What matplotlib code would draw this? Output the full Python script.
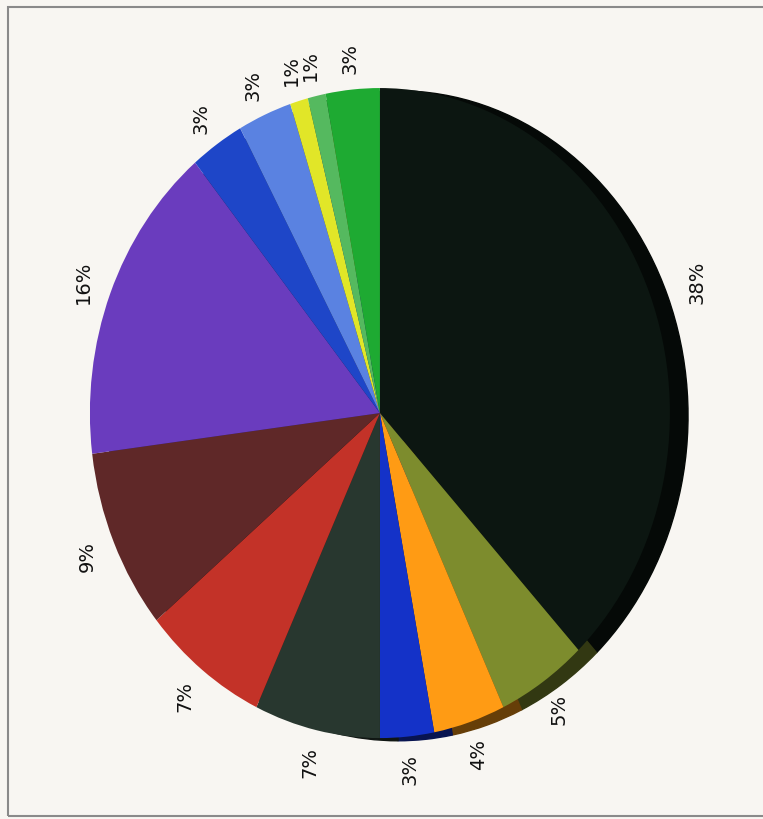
import matplotlib
matplotlib.use('Agg')
import matplotlib.pyplot as plt
from matplotlib.patches import Rectangle

# slices, clockwise from the top
values = [38, 5, 4, 3, 7, 7, 9, 16, 3, 3, 1, 1, 3]
labels = ['38%', '5%', '4%', '3%', '7%', '7%', '9%', '16%', '3%', '3%', '1%', '1%', '3%']
colors = ['#0c1611', '#7d8c2d', '#ff9b14', '#1432c8', '#28372f', '#c33228',
          '#5f2828', '#6a3cbe', '#1e46c8', '#5a82e1', '#e1e628', '#55b95f', '#1eaa32']

bg = '#f8f6f2'
fig = plt.figure(figsize=(7.63, 8.2), dpi=100, facecolor=bg)
ax = fig.add_axes([0, 0, 1, 1])
ax.set_facecolor(bg)

wedges, texts = ax.pie(values, labels=labels, colors=colors, startangle=90,
                       counterclock=False, labeldistance=1.1,
                       shadow={'ox': 0.045, 'oy': -0.006, 'shade': 0.6, 'alpha': 1},
                       textprops={'fontsize': 14, 'color': '#111111', 'rotation': 90})
for t in texts:
    t.set_ha('center')
    t.set_va('center')
# the big slice's label sits a bit further out in the scan
x, y = texts[0].get_position()
texts[0].set_position((x * 1.07, y))

# elliptical pie, like the scan
ax.set_aspect('auto')
ax.set_xlim(-1.310, 1.321)
ax.set_ylim(-1.249, 1.274)
ax.axis('off')

# frame of the scanned page
fig.patches.append(Rectangle((8 / 763, 3 / 820), 1.0, 809 / 820, transform=fig.transFigure,
                             fill=False, edgecolor='#8a8a8a', linewidth=1.5))

fig.savefig('out.png', facecolor=bg)
